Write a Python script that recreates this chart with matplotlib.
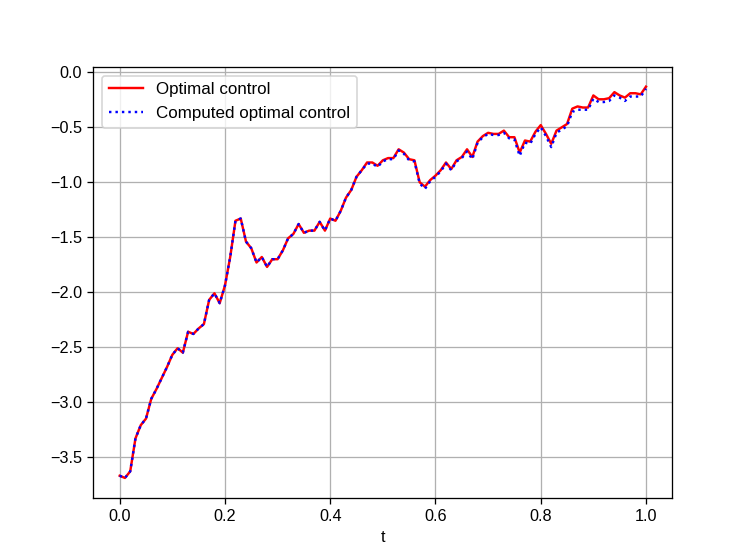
import numpy as np
import matplotlib
matplotlib.use("Agg")
import matplotlib.pyplot as plt

plt.rcParams['font.family'] = ['Liberation Sans', 'DejaVu Sans']

# time grid (101 points on [0, 1])
t = np.linspace(0, 1, 101)

# values
optimal = [
    -3.67, -3.69, -3.63, -3.33, -3.21, -3.15, -2.97, -2.88, -2.78, -2.68,
    -2.57, -2.51, -2.55, -2.36, -2.38, -2.33, -2.29, -2.07, -2.01, -2.10,
    -1.94, -1.68, -1.35, -1.33, -1.54, -1.60, -1.73, -1.68, -1.77, -1.70,
    -1.70, -1.62, -1.51, -1.47, -1.38, -1.46, -1.44, -1.44, -1.36, -1.44,
    -1.33, -1.35, -1.26, -1.14, -1.07, -0.95, -0.89, -0.82, -0.82, -0.85,
    -0.80, -0.78, -0.78, -0.70, -0.73, -0.79, -0.80, -1.00, -1.04, -0.98,
    -0.94, -0.89, -0.82, -0.88, -0.80, -0.77, -0.70, -0.77, -0.63, -0.58,
    -0.55, -0.56, -0.56, -0.53, -0.59, -0.59, -0.73, -0.62, -0.63, -0.54,
    -0.48, -0.56, -0.65, -0.53, -0.50, -0.47, -0.33, -0.31, -0.32, -0.32,
    -0.21, -0.245, -0.245, -0.235, -0.18, -0.21, -0.23, -0.19, -0.19, -0.20,
    -0.13,
]

computed = [
    -3.67, -3.69, -3.63, -3.33, -3.21, -3.15, -2.97, -2.88, -2.78, -2.68,
    -2.57, -2.51, -2.55, -2.36, -2.38, -2.33, -2.29, -2.07, -2.01, -2.10,
    -1.94, -1.68, -1.35, -1.33, -1.54, -1.60, -1.73, -1.68, -1.77, -1.70,
    -1.70, -1.62, -1.51, -1.47, -1.38, -1.46, -1.44, -1.44, -1.36, -1.44,
    -1.33, -1.35, -1.26, -1.14, -1.07, -0.95, -0.89, -0.83, -0.83, -0.86,
    -0.81, -0.79, -0.79, -0.71, -0.74, -0.80, -0.81, -1.01, -1.06, -0.99,
    -0.95, -0.90, -0.83, -0.89, -0.81, -0.78, -0.72, -0.79, -0.64, -0.59,
    -0.56, -0.57, -0.57, -0.55, -0.60, -0.61, -0.76, -0.64, -0.65, -0.56,
    -0.50, -0.58, -0.68, -0.55, -0.52, -0.49, -0.36, -0.34, -0.34, -0.34,
    -0.24, -0.27, -0.27, -0.26, -0.21, -0.23, -0.26, -0.22, -0.22, -0.22,
    -0.15,
]

dpi = 116.7
fig = plt.figure(figsize=(747 / dpi, 559 / dpi), dpi=dpi)
plt.plot(t, optimal, color='red', label='Optimal control')
plt.plot(t, computed, color='blue', linestyle=':', label='Computed optimal control')
plt.xlabel('t')
plt.grid(True)
plt.legend(loc='upper left', fontsize=10.5)
plt.savefig('out.png', dpi=dpi)
